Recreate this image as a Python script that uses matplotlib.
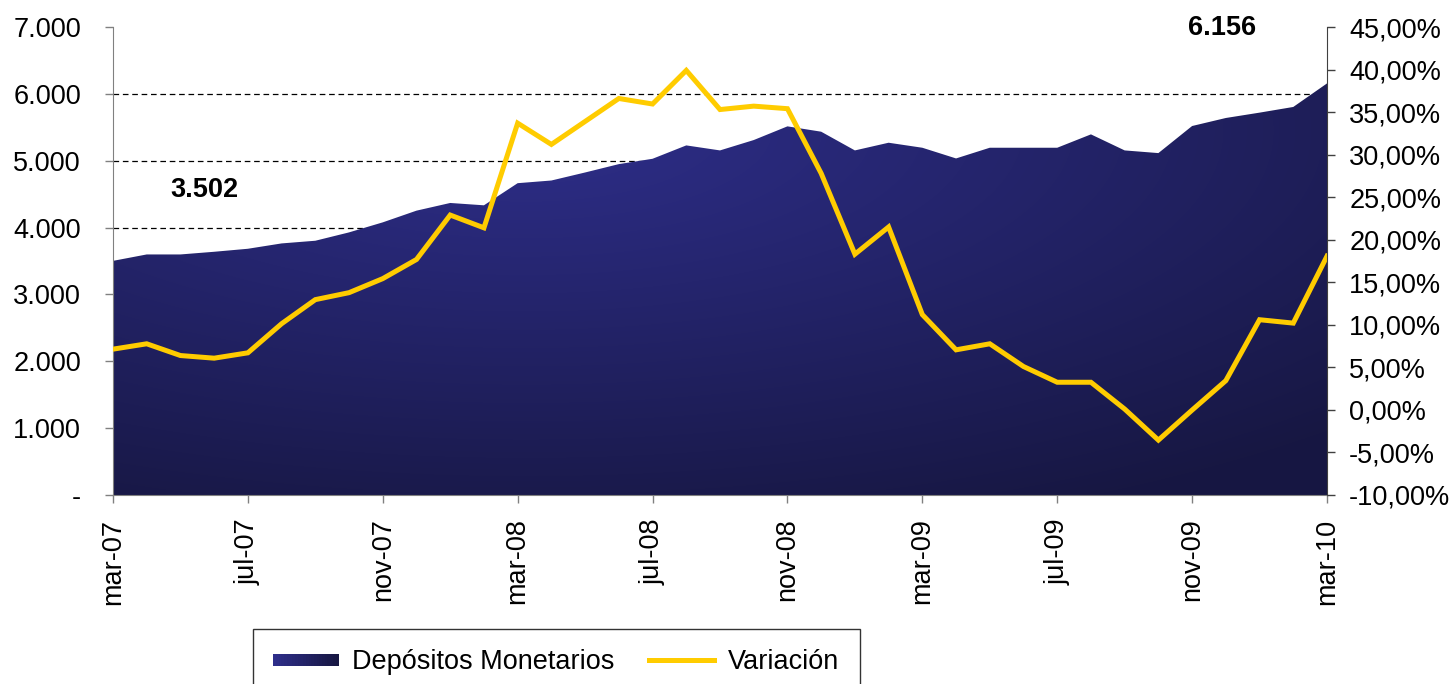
import numpy as np
import matplotlib.pyplot as plt
from matplotlib.patches import Polygon, Rectangle
from matplotlib.lines import Line2D
from matplotlib.legend_handler import HandlerBase

plt.rcParams['font.family'] = ['Liberation Sans', 'DejaVu Sans']

# datos mensuales mar-07 .. mar-10
meses = ["mar-07", "jul-07", "nov-07", "mar-08", "jul-08", "nov-08",
         "mar-09", "jul-09", "nov-09", "mar-10"]
depositos = [3502, 3598, 3598, 3638, 3683, 3763, 3803, 3928, 4078, 4253, 4368, 4333,
             4664, 4704, 4824, 4949, 5029, 5229, 5154, 5309, 5514, 5434, 5154, 5269,
             5194, 5034, 5194, 5194, 5194, 5394, 5154, 5114, 5519, 5639, 5719, 5804, 6156]
variacion = [7.14, 7.77, 6.39, 6.08, 6.71, 10.13, 12.96, 13.78, 15.43, 17.68, 22.9, 21.4,
             33.7, 31.2, 33.9, 36.6, 35.95, 39.9, 35.3, 35.7, 35.4, 27.8, 18.3, 21.5,
             11.2, 7.06, 7.77, 5.1, 3.25, 3.25, 0.1, -3.55, -0.02, 3.44, 10.6, 10.2, 18.07]
ticks_izq = [0, 1000, 2000, 3000, 4000, 5000, 6000, 7000]
ticks_der = [-10, -5, 0, 5, 10, 15, 20, 25, 30, 35, 40, 45]

x = np.arange(len(depositos))
claro = np.array([0.18, 0.18, 0.54])
oscuro = np.array([0.09, 0.09, 0.26])
amarillo = '#FFCC00'
fs = 19.5


class HandlerGradiente(HandlerBase):
    def create_artists(self, legend, orig_handle, xdescent, ydescent,
                       width, height, fontsize, trans):
        n = 24
        arts = []
        for i in range(n):
            f = i / (n - 1)
            c = claro * (1 - f) + oscuro * f
            r = Rectangle((-xdescent + i * width / n, -ydescent + height * 0.18),
                          width / n * 1.1, height * 0.64,
                          facecolor=c, edgecolor='none', transform=trans)
            arts.append(r)
        return arts


fig = plt.figure(figsize=(14.53, 6.84), dpi=100)
ax = fig.add_axes([113 / 1453, 1 - 495 / 684, 1214 / 1453, 468 / 684])

ax.set_xlim(0, len(depositos) - 1)
ax.set_ylim(0, 7000)

# lineas guia
for v in ticks_izq[1:-1]:
    ax.axhline(v, color='black', lw=0.9, linestyle=(0, (4.5, 3)), zorder=0.5)

# area con degradado
verts = [(0, 0)] + list(zip(x, depositos)) + [(x[-1], 0)]
poly = Polygon(verts, closed=True, facecolor='none', edgecolor='none')
ax.add_patch(poly)
U, V = np.meshgrid(np.linspace(0, 1, 600), np.linspace(0, 1, 300))
t = np.sqrt(((U - 0.34) / 0.95) ** 2 + ((V - 0.78) / 0.9) ** 2)
t = np.clip(t, 0, 1)[..., None]
img = claro * (1 - t) + oscuro * t
im = ax.imshow(img, origin='lower', extent=[0, x[-1], 0, 7000], aspect='auto',
               zorder=1, interpolation='bilinear')
im.set_clip_path(poly)

ax.set_xticks(x[::4])
ax.set_xticklabels(meses, rotation=90)
ax.set_yticks(ticks_izq)
ax.set_yticklabels(['-' if v == 0 else f"{v:,}".replace(',', '.') for v in ticks_izq])

ax.tick_params(axis='y', direction='out', length=6, width=1, color='#808080',
               pad=17, labelsize=fs)
ax.tick_params(axis='x', direction='out', length=6, width=1, color='#808080',
               pad=11, labelsize=fs)
for s in ['top', 'right']:
    ax.spines[s].set_visible(False)
for s in ['left', 'bottom']:
    ax.spines[s].set_color('#808080')
    ax.spines[s].set_zorder(3)

ax.text(2.7, 4560, f"{depositos[0]:,}".replace(',', '.'), fontsize=fs,
        fontweight='bold', ha='center', va='center')
ax.text(32.9, 6985, f"{depositos[-1]:,}".replace(',', '.'), fontsize=fs,
        fontweight='bold', ha='center', va='center')

ax2 = ax.twinx()
ax2.plot(x, variacion, color=amarillo, lw=3.6, solid_joinstyle='miter')
ax2.set_ylim(-10, 45)
ax2.set_yticks(ticks_der)
ax2.set_yticklabels([f"{v:.2f}%".replace('.', ',') for v in ticks_der])
ax2.tick_params(axis='y', direction='out', length=6, width=1, color='#404040',
                pad=10, labelsize=fs)
for s in ['top', 'left', 'bottom']:
    ax2.spines[s].set_visible(False)
ax2.spines['right'].set_color('#404040')

h_area = Rectangle((0, 0), 1, 1)
h_linea = Line2D([], [], color=amarillo, lw=3.6)
leg = fig.legend([h_area, h_linea], ['Depósitos Monetarios', 'Variación'],
                 ncol=2, loc='upper left',
                 bbox_to_anchor=(253 / 1453, 1 - 629 / 684),
                 bbox_transform=fig.transFigure, borderaxespad=0,
                 fontsize=fs, frameon=True, fancybox=False, shadow=False,
                 edgecolor='black', borderpad=0.75, handlelength=2.4,
                 handletextpad=0.5, columnspacing=1.3,
                 handler_map={Rectangle: HandlerGradiente()})
leg.get_frame().set_linewidth(1.0)

fig.savefig('out.png', dpi=100)
